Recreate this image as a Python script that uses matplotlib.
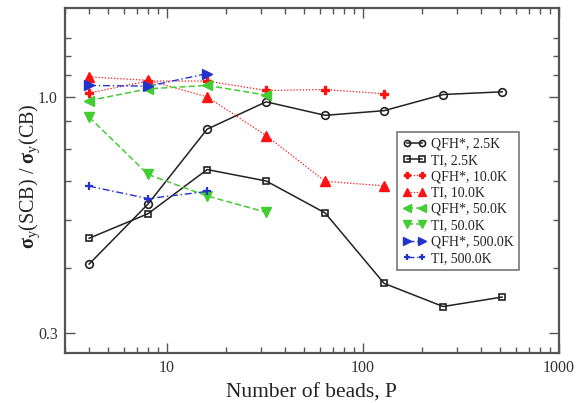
import numpy as np
import matplotlib
matplotlib.use("Agg")
import matplotlib.pyplot as plt
from matplotlib.ticker import FixedLocator, NullFormatter, LogLocator

plt.rcParams['font.family'] = ['Liberation Serif', 'DejaVu Serif']
plt.rcParams['mathtext.fontset'] = 'custom'
plt.rcParams['mathtext.rm'] = 'Liberation Serif'
plt.rcParams['mathtext.it'] = 'Liberation Serif:italic'
plt.rcParams['mathtext.bf'] = 'Liberation Serif:bold'

# Number of beads
beads_long = [4, 8, 16, 32, 64, 128, 256, 512]
beads_mid = [4, 8, 16, 32, 64, 128]
beads_short = [4, 8, 16, 32]
beads_tiny = [4, 8, 16]

# sigma_y(SCB) / sigma_y(CB) ratios
qfh_2p5 = [0.426, 0.579, 0.848, 0.975, 0.910, 0.932, 1.012, 1.026]
ti_2p5 = [0.486, 0.551, 0.690, 0.651, 0.553, 0.386, 0.343, 0.360]
qfh_10 = [1.020, 1.084, 1.084, 1.033, 1.038, 1.016]
ti_10 = [1.107, 1.088, 1.000, 0.821, 0.650, 0.635]
qfh_50 = [0.981, 1.042, 1.060, 1.009]
ti_50 = [0.902, 0.673, 0.603, 0.555]
qfh_500 = [1.060, 1.056, 1.126]
ti_500 = [0.634, 0.595, 0.617]

labels = ["QFH*, 2.5K", "TI, 2.5K", "QFH*, 10.0K", "TI, 10.0K",
          "QFH*, 50.0K", "TI, 50.0K", "QFH*, 500.0K", "TI, 500.0K"]

y_major = [0.3, 1.0]
y_tick_labels = ["0.3", "1.0"]
y_minor = [0.3 + 0.7 * k / 6 for k in range(1, 10)]
x_major = [10, 100, 1000]
x_tick_labels = ["10", "100", "1000"]

black = '#222222'
red = '#ff1111'
green = '#44cc33'
blue = '#2233cc'

fig = plt.figure(figsize=(5.77, 4.03), dpi=100)
ax = fig.add_axes([0.112, 0.123, 0.857, 0.856])

ax.plot(beads_long, qfh_2p5, color=black, lw=1.1, marker='o', ms=5.5,
        mfc='none', mec=black, mew=1.2, label=labels[0])
ax.plot(beads_long, ti_2p5, color=black, lw=1.1, marker='s', ms=5,
        mfc='none', mec=black, mew=1.2, label=labels[1])
ax.plot(beads_mid, qfh_10, color=red, lw=0.9, ls=(0, (1, 1.5)), marker='P',
        ms=5.5, mfc=red, mec=red, label=labels[2])
ax.plot(beads_mid, ti_10, color=red, lw=0.9, ls=(0, (1, 1.5)), marker='^',
        ms=7, mfc=red, mec=red, label=labels[3])
ax.plot(beads_short, qfh_50, color=green, lw=1.1, ls=(0, (4, 2)), marker='<',
        ms=7, mfc=green, mec=green, label=labels[4])
ax.plot(beads_short, ti_50, color=green, lw=1.1, ls=(0, (4, 2)), marker='v',
        ms=7, mfc=green, mec=green, label=labels[5])
ax.plot(beads_tiny, qfh_500, color=blue, lw=1.0, ls=(0, (5, 2, 1, 2)), marker='>',
        ms=7, mfc=blue, mec=blue, label=labels[6])
ax.plot(beads_tiny, ti_500, color=blue, lw=1.0, ls=(0, (5, 2, 1, 2)), marker='+',
        ms=6, mew=1.6, mec=blue, label=labels[7])

ax.set_xscale('log')
ax.set_yscale('log')
ax.set_xlim(3, 1000)
ax.set_ylim(0.27, 1.57)

ax.xaxis.set_major_locator(FixedLocator(x_major))
ax.set_xticklabels(x_tick_labels)
ax.xaxis.set_minor_locator(LogLocator(base=10, subs=np.arange(2, 10)))
ax.xaxis.set_minor_formatter(NullFormatter())

ax.yaxis.set_major_locator(FixedLocator(y_major))
ax.set_yticklabels(y_tick_labels)
ax.yaxis.set_minor_locator(FixedLocator(y_minor))
ax.yaxis.set_minor_formatter(NullFormatter())

spine_col = '#555555'
for s in ax.spines.values():
    s.set_color(spine_col)
    s.set_linewidth(1.6)

ax.tick_params(which='both', direction='in', top=True, right=True,
               color=spine_col, width=1.0)
ax.tick_params(which='major', length=7, labelsize=11.5, pad=5,
               labelcolor='#333333')
ax.tick_params(which='minor', length=4)

ax.set_xlabel("Number of beads, P", fontsize=15.5, color='#222222', labelpad=5)
ax.set_ylabel(r"$\mathbf{\sigma}_\mathrm{y}$(SCB) / $\mathbf{\sigma}_\mathrm{y}$(CB)",
              fontsize=14.5, color='#222222')
ax.yaxis.set_label_coords(-0.045, 0.515)

leg = ax.legend(loc='upper left', bbox_to_anchor=(0.672, 0.642),
                borderaxespad=0, fontsize=10, handlelength=1.7, numpoints=2,
                markerscale=0.8, handletextpad=0.35, borderpad=0.4,
                labelspacing=0.24, fancybox=False, framealpha=1,
                edgecolor='#777777')
leg.get_frame().set_linewidth(1.2)
for t in leg.get_texts():
    t.set_color('#222222')

fig.savefig("out.png", dpi=100)
